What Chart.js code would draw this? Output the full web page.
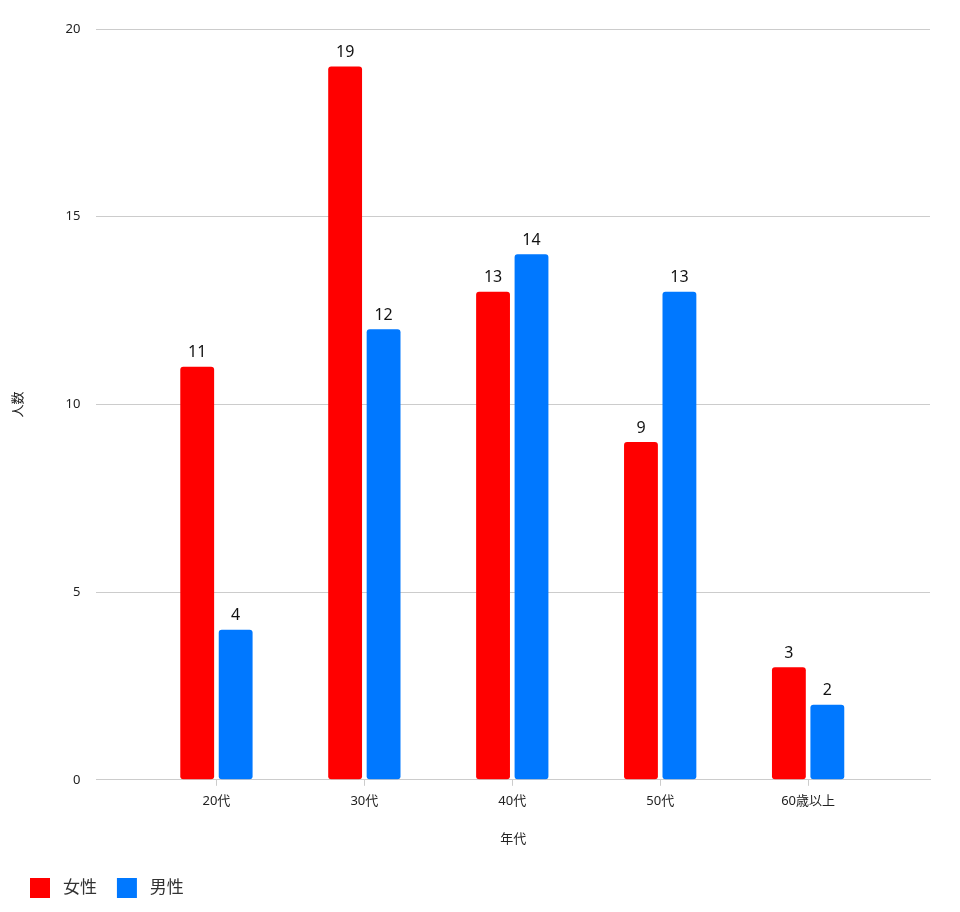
<!DOCTYPE html>
<html>
<head>
<meta charset="utf-8">
<script src="https://cdn.jsdelivr.net/npm/chart.js@4"></script>
<style>
  html, body { margin: 0; padding: 0; background: #fff; }
  #wrap { width: 960px; height: 912px; }
</style>
</head>
<body>
<div id="wrap"><canvas id="bar-chart"></canvas></div>
<script>
// age groups and counts per gender
const categories = ['20代', '30代', '40代', '50代', '60歳以上'];
const female = [11, 19, 13, 9, 3];
const male = [4, 12, 14, 13, 2];
const seriesNames = ['女性', '男性'];
const yTicks = [0, 5, 10, 15, 20];

const FONT = "'Noto Sans', 'Noto Sans CJK JP', sans-serif";
const toPoints = arr => arr.map((v, i) => ({ x: i, y: v }));

// draws the value above each bar
const valueLabels = {
  id: 'valueLabels',
  afterDatasetsDraw(chart) {
    const ctx = chart.ctx;
    ctx.save();
    ctx.font = '16px ' + FONT;
    ctx.fillStyle = '#111';
    ctx.textAlign = 'center';
    ctx.textBaseline = 'bottom';
    chart.data.datasets.forEach((ds, di) => {
      chart.getDatasetMeta(di).data.forEach((bar, i) => {
        ctx.fillText(ds.data[i].y, bar.x, bar.y - 6);
      });
    });
    ctx.restore();
  }
};

const chart = new Chart(document.getElementById('bar-chart').getContext('2d'), {
  type: 'bar',
  data: {
    datasets: [{
      label: seriesNames[0],
      data: toPoints(female),
      backgroundColor: '#ff0000',
      borderRadius: 3,
      borderSkipped: false
    }, {
      label: seriesNames[1],
      data: toPoints(male),
      backgroundColor: '#0078ff',
      borderRadius: 3,
      borderSkipped: false
    }]
  },
  options: {
    responsive: true,
    maintainAspectRatio: false,
    animation: false,
    categoryPercentage: 0.52,
    barPercentage: 0.88,
    layout: { padding: { left: 10, right: 30, top: 29, bottom: 4 } },
    plugins: {
      legend: {
        position: 'bottom',
        align: 'start',
        labels: {
          boxWidth: 20,
          boxHeight: 20,
          padding: 20,
          color: '#333',
          font: { family: FONT, size: 17 },
          generateLabels: c => Chart.defaults.plugins.legend.labels.generateLabels(c)
            .map(item => Object.assign(item, { text: ' ' + item.text }))
        }
      },
      tooltip: { enabled: false }
    },
    scales: {
      x: {
        type: 'linear',
        min: -0.811,
        max: 4.824,
        offset: false,
        grid: { display: true, offset: false, drawOnChartArea: false, drawTicks: true, tickLength: 6, color: '#cccccc' },
        border: { display: true, color: '#cccccc' },
        ticks: {
          stepSize: 1,
          includeBounds: false,
          padding: 8,
          color: '#222',
          font: { family: FONT, size: 13 },
          callback: v => Number.isInteger(v) ? (categories[v] || '') : ''
        },
        title: {
          display: true,
          text: '年代',
          color: '#222',
          font: { family: FONT, size: 13 },
          padding: { top: 14, bottom: 11 }
        }
      },
      y: {
        min: yTicks[0],
        max: yTicks[yTicks.length - 1],
        grid: { color: '#cccccc', drawTicks: false },
        border: { display: false },
        ticks: {
          stepSize: 5,
          padding: 16,
          color: '#222',
          font: { family: FONT, size: 13 }
        },
        title: {
          display: true,
          text: '人数',
          color: '#222',
          font: { family: FONT, size: 13 },
          padding: { top: 0, bottom: 24 }
        }
      }
    }
  },
  plugins: [valueLabels]
});
</script>
</body>
</html>
